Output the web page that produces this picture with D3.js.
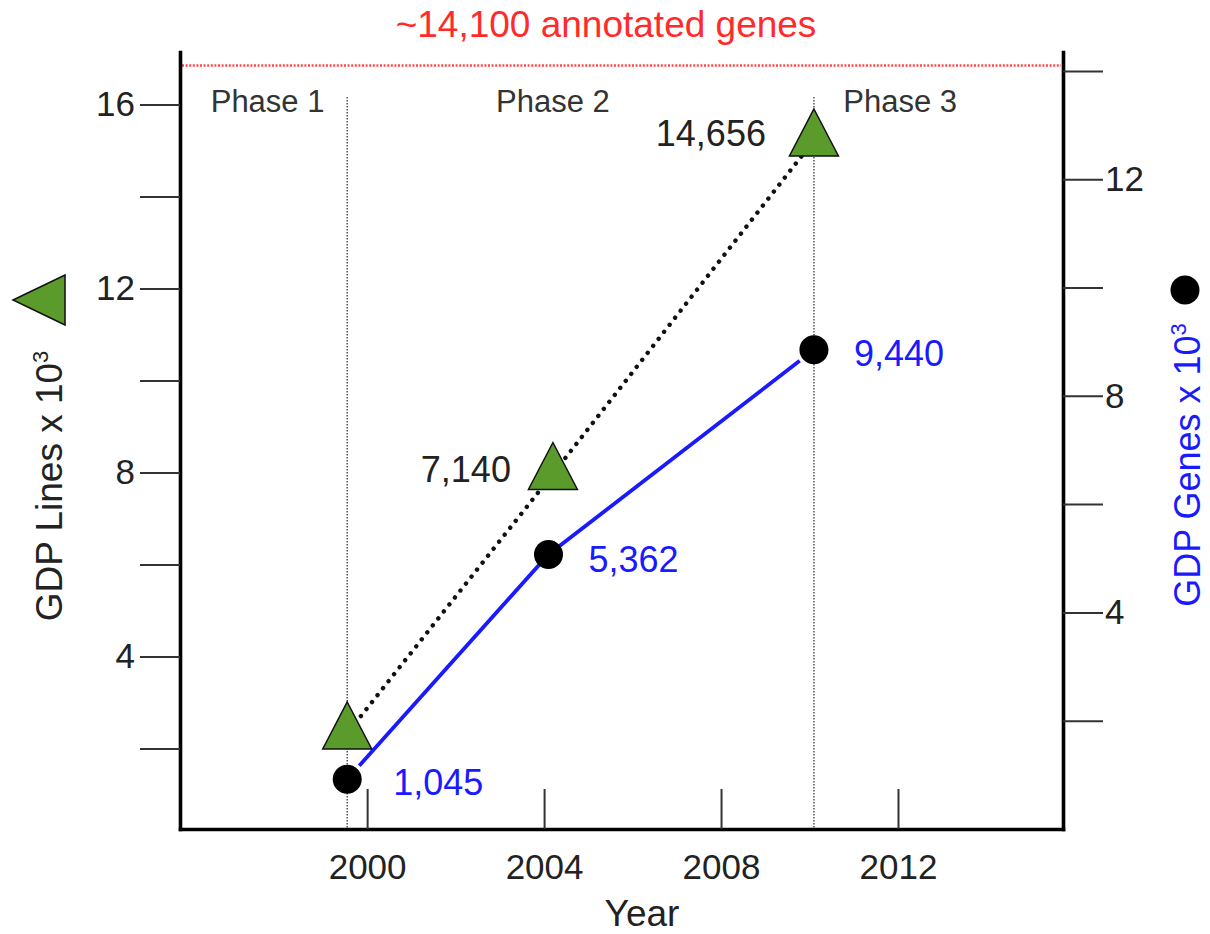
<!DOCTYPE html>
<html><head><meta charset="utf-8">
<script src="https://cdn.jsdelivr.net/npm/d3@7"></script>
<style>
body{margin:0;background:#fff}
text{font-family:"Liberation Sans",Arial,Helvetica,sans-serif}
</style>
</head><body>
<svg id="c" width="1210" height="934"></svg>
<script>
// ---- data ----
const lineYears = [1999.55, 2004.2, 2010.1];
const lineValues = [2.33, 7.97, 15.22];          // GDP Lines x 10^3 (left axis)
const lineLabels = ["", "7,140", "14,656"];
const geneYears = [1999.55, 2004.1, 2010.1];
const geneValues = [0.92, 5.07, 8.85];           // GDP Genes x 10^3 (right axis)
const geneLabels = ["1,045", "5,362", "9,440"];
const phaseBoundaries = [1999.55, 2010.1];
const phaseNames = ["Phase 1", "Phase 2", "Phase 3"];
const phaseLabelYears = [1997.75, 2004.2, 2012.05];
const annotatedGenes = 14.1;
const annotationText = "~14,100 annotated genes";
const xTicks = [2000, 2004, 2008, 2012];
const leftTicks = [2, 4, 6, 8, 10, 12, 14, 16];
const leftLabeled = [4, 8, 12, 16];
const rightTicks = [2, 4, 6, 8, 10, 12, 14];
const rightLabeled = [4, 8, 12];
const xDomain = [1995.77, 2015.73];
const leftDomain = [0.25, 17.14];
const rightDomain = [0, 14.35];

// ---- layout ----
const L = 180, R = 1063, T = 52, B = 829;
const svg = d3.select("#c");
const x = d3.scaleLinear().domain(xDomain).range([L, R]);
const yL = d3.scaleLinear().domain(leftDomain).range([B, T]);
const yR = d3.scaleLinear().domain(rightDomain).range([B, T]);

const GREEN = "#5b9b2b", BLUE = "#1a1aff", RED = "#ff2b2b";

function triPath(w, h) {
  const p = d3.path();
  p.moveTo(0, -2 * h / 3); p.lineTo(w / 2, h / 3); p.lineTo(-w / 2, h / 3); p.closePath();
  return p.toString();
}
function trimmed(pts, t0, t1) {
  const p = pts.map(d => d.slice());
  const cut = (a, b, t) => { const dx = b[0] - a[0], dy = b[1] - a[1], l = Math.hypot(dx, dy); return [a[0] + dx * t / l, a[1] + dy * t / l]; };
  p[0] = cut(pts[0], pts[1], t0);
  const n = pts.length - 1;
  p[n] = cut(pts[n], pts[n - 1], t1);
  return p;
}

// phase boundaries
svg.append("g").selectAll("line").data(phaseBoundaries).join("line")
  .attr("x1", d => x(d)).attr("x2", d => x(d)).attr("y1", 97).attr("y2", B)
  .attr("stroke", "#555").attr("stroke-width", 1.5).attr("stroke-dasharray", "1.5 1.5");

// annotated genes reference line
svg.append("line").attr("x1", L + 2).attr("x2", R - 2)
  .attr("y1", yR(annotatedGenes)).attr("y2", yR(annotatedGenes))
  .attr("stroke", "#ff4a4a").attr("stroke-width", 2.5).attr("stroke-dasharray", "2 1.6");
svg.append("text").attr("x", 606).attr("y", 37).attr("text-anchor", "middle")
  .attr("font-size", 37).attr("fill", RED).text(annotationText);

// phase names
svg.append("g").selectAll("text").data(phaseNames).join("text")
  .attr("x", (d, i) => x(phaseLabelYears[i])).attr("y", 112).attr("text-anchor", "middle")
  .attr("font-size", 31).attr("fill", "#333").text(d => d);

// lines
const line = d3.line();
const linePts = lineYears.map((d, i) => [x(d), yL(lineValues[i])]);
const genePts = geneYears.map((d, i) => [x(d), yR(geneValues[i])]);
svg.append("path").attr("d", line(trimmed(linePts, 22, 20))).attr("fill", "none")
  .attr("stroke", "#111").attr("stroke-width", 4.4).attr("stroke-linecap", "round")
  .attr("stroke-dasharray", "0.1 8.8");
svg.append("path").attr("d", line(trimmed(genePts, 18, 18))).attr("fill", "none")
  .attr("stroke", BLUE).attr("stroke-width", 3.8);

// axes
const styleAxis = g => {
  g.select(".domain").attr("stroke", "#000").attr("stroke-width", 3.6).attr("stroke-linecap", "square");
  g.selectAll(".tick line").attr("stroke", "#333").attr("stroke-width", 2);
  g.selectAll(".tick text").attr("font-size", 35).attr("fill", "#222")
    .attr("font-family", '"Liberation Sans",Arial,Helvetica,sans-serif');
};
const gL = svg.append("g").attr("transform", `translate(${L},0)`)
  .call(d3.axisLeft(yL).tickValues(leftTicks).tickSize(40).tickSizeOuter(0).tickPadding(5)
    .tickFormat(d => leftLabeled.includes(d) ? d : ""));
styleAxis(gL);
const gR = svg.append("g").attr("transform", `translate(${R},0)`)
  .call(d3.axisRight(yR).tickValues(rightTicks).tickSize(40).tickSizeOuter(0).tickPadding(2)
    .tickFormat(d => rightLabeled.includes(d) ? d : ""));
styleAxis(gR);
const gB = svg.append("g").attr("transform", `translate(0,${B})`)
  .call(d3.axisBottom(x).tickValues(xTicks).tickSize(-40).tickSizeOuter(0).tickFormat(d3.format("d")));
styleAxis(gB);
gB.selectAll(".tick text").attr("y", 50).attr("dy", "0");

// markers
svg.append("g").selectAll("path").data(linePts).join("path")
  .attr("transform", d => `translate(${d[0]},${d[1]})`).attr("d", triPath(49, 47))
  .attr("fill", GREEN).attr("stroke", "#111").attr("stroke-width", 1.5).attr("stroke-linejoin", "miter");
svg.append("g").selectAll("circle").data(genePts).join("circle")
  .attr("cx", d => d[0]).attr("cy", d => d[1]).attr("r", 14.5).attr("fill", "#000");

// value labels
const lineOff = [[0, 0], [-42, 8], [-48, 6]];
svg.append("g").selectAll("text").data(linePts).join("text")
  .attr("x", (d, i) => d[0] + lineOff[i][0]).attr("y", (d, i) => d[1] + lineOff[i][1])
  .attr("text-anchor", "end").attr("font-size", 36).attr("fill", "#222").text((d, i) => lineLabels[i]);
const geneOff = [[46, 16], [40, 18], [40, 16]];
svg.append("g").selectAll("text").data(genePts).join("text")
  .attr("x", (d, i) => d[0] + geneOff[i][0]).attr("y", (d, i) => d[1] + geneOff[i][1])
  .attr("text-anchor", "start").attr("font-size", 36).attr("fill", BLUE).text((d, i) => geneLabels[i]);

// axis titles
const tl = svg.append("text").attr("transform", "translate(62,486) rotate(-90)")
  .attr("text-anchor", "middle").attr("font-size", 37).attr("fill", "#222");
tl.append("tspan").text("GDP Lines x 10");
tl.append("tspan").attr("font-size", 22).attr("dy", "-14").text("3");
const tr = svg.append("text").attr("transform", "translate(1200,465) rotate(-90)")
  .attr("text-anchor", "middle").attr("font-size", 36).attr("fill", BLUE);
tr.append("tspan").text("GDP Genes x 10");
tr.append("tspan").attr("font-size", 22).attr("dy", "-14").text("3");

svg.append("text").attr("x", 642).attr("y", 926).attr("text-anchor", "middle")
  .attr("font-size", 37).attr("fill", "#222").text("Year");

// legend symbols next to axis titles
svg.append("path").attr("transform", "translate(47.7,300) rotate(-90)").attr("d", triPath(50, 52))
  .attr("fill", GREEN).attr("stroke", "#111").attr("stroke-width", 1.5);
svg.append("circle").attr("cx", 1185).attr("cy", 290).attr("r", 14.5).attr("fill", "#000");
</script>
</body></html>
